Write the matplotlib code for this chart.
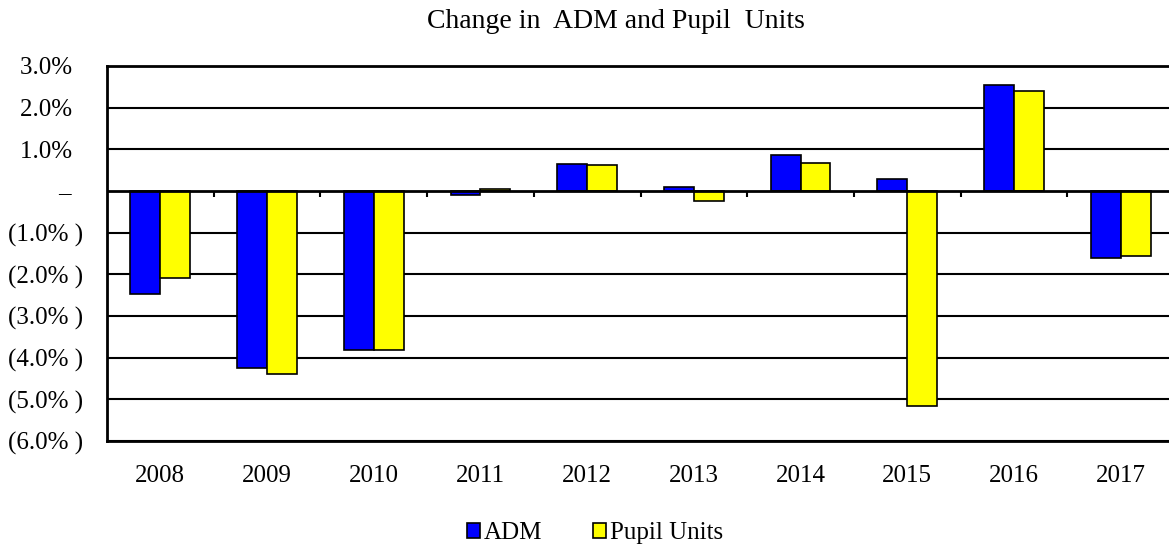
import matplotlib
matplotlib.use("Agg")
import matplotlib.pyplot as plt
import numpy as np

plt.rcParams['font.family'] = ['Liberation Serif', 'DejaVu Serif']

# Data (percent change)
years = ['2008', '2009', '2010', '2011', '2012', '2013', '2014', '2015', '2016', '2017']
adm = [-2.47, -4.24, -3.81, -0.10, 0.66, 0.10, 0.86, 0.29, 2.55, -1.60]
pupil_units = [-2.09, -4.38, -3.82, 0.05, 0.62, -0.24, 0.67, -5.15, 2.39, -1.55]

y_ticks = [3, 2, 1, 0, -1, -2, -3, -4, -5, -6]
y_labels = ['3.0% \u2009', '2.0% \u2009', '1.0% \u2009', '\u2013  ', '(1.0% )', '(2.0% )', '(3.0% )',
            '(4.0% )', '(5.0% )', '(6.0% )']

fig = plt.figure(figsize=(11.69, 5.46), dpi=100)
ax = fig.add_axes([107 / 1169, 105 / 546, 1067 / 1169, 375 / 546])

x = np.arange(len(years))
w = 0.28
ax.bar(x - w / 2, adm, w, color='#0000FF', edgecolor='black', linewidth=1.2, label='ADM', zorder=3)
ax.bar(x + w / 2, pupil_units, w, color='#FFFF00', edgecolor='black', linewidth=1.2,
       label='Pupil Units', zorder=3)

ax.set_xlim(-0.5, len(years) - 0.5)
ax.set_ylim(-6, 3)

# gridlines
for t in y_ticks:
    ax.axhline(t, color='black', linewidth=1.5 if t != 0 else 2, zorder=1 if t != 0 else 4)

# small ticks on zero line between categories
ax.vlines(x[1:] - 0.5, -0.14, 0, color='black', linewidth=1.5, zorder=4)

ax.set_yticks(y_ticks)
ax.set_yticklabels(y_labels, fontsize=18)
ax.set_xticks(x)
ax.set_xticklabels(years, fontsize=18)
ax.tick_params(axis='both', length=0)
ax.tick_params(axis='y', pad=17)
ax.tick_params(axis='x', pad=17)

for s in ['top', 'bottom', 'left']:
    ax.spines[s].set_linewidth(2)
ax.spines['right'].set_visible(False)

fig.text(427 / 1169, 1 - 22 / 546, 'Change in  ADM and Pupil  Units',
         ha='left', va='center', fontsize=20)

fig.legend(loc='center', bbox_to_anchor=(0.509, 1 - 533 / 546), ncol=2, frameon=False,
           fontsize=18, handlelength=0.55, handleheight=0.55, handletextpad=0.15,
           columnspacing=2.0, borderaxespad=0)

fig.savefig('out.png', dpi=100)
